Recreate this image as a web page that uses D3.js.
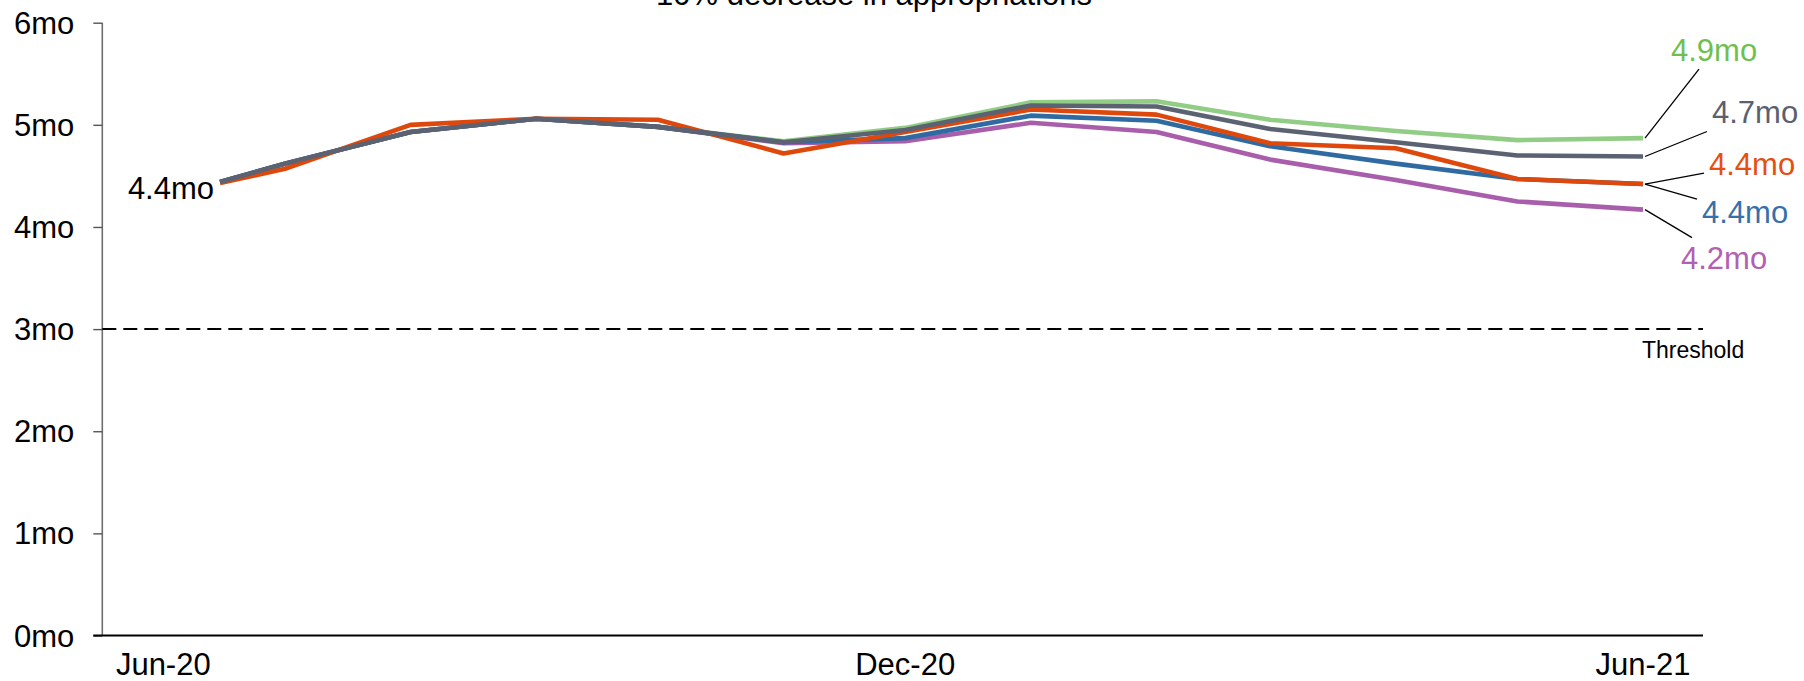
<!DOCTYPE html>
<html>
<head>
<meta charset="utf-8">
<script src="https://cdn.jsdelivr.net/npm/d3@7"></script>
<style>
  html, body { margin: 0; padding: 0; background: #ffffff; }
  svg { display: block; font-family: "Liberation Sans", Arial, Helvetica, sans-serif; }
</style>
</head>
<body>
<svg id="chart" width="1804" height="681"></svg>
<script>
// Months of cash on hand, one line per scenario
const dates = ["2020-06-15", "2020-07-01", "2020-08-01", "2020-09-01", "2020-10-01",
  "2020-11-01", "2020-12-01", "2021-01-01", "2021-02-01", "2021-03-01",
  "2021-04-01", "2021-05-01", "2021-06-01"];

const seriesGreen  = [4.44, 4.62, 4.93, 5.06, 4.98, 4.84, 4.97, 5.22, 5.23, 5.05, 4.94, 4.85, 4.87];
const seriesPurple = [4.44, 4.62, 4.93, 5.06, 4.98, 4.82, 4.84, 5.02, 4.93, 4.66, 4.46, 4.25, 4.17];
const seriesBlue   = [4.44, 4.62, 4.93, 5.06, 4.98, 4.83, 4.87, 5.09, 5.04, 4.79, 4.62, 4.47, 4.42];
const seriesOrange = [4.43, 4.57, 5.00, 5.06, 5.05, 4.72, 4.93, 5.15, 5.10, 4.82, 4.77, 4.47, 4.42];
const seriesGray   = [4.44, 4.62, 4.93, 5.06, 4.98, 4.83, 4.95, 5.19, 5.18, 4.96, 4.83, 4.70, 4.69];

const yTicks = [0, 1, 2, 3, 4, 5, 6];
const xTickDates = ["2020-06-01", "2020-12-01", "2021-06-01"];
const thresholdValue = 3;
const titleText = "10% decrease in appropriations";
const thresholdText = "Threshold";

// drawing styles and end-label layout (offsets from each line's last point)
const seriesList = [
  { values: seriesGreen,  stroke: "#92cd86", text: "#6fbf4f", leader: [56, -69],   label: [28, -77] },
  { values: seriesPurple, stroke: "#a95eab", text: "#b160b3", leader: [49, 28],    label: [38, 59] },
  { values: seriesBlue,   stroke: "#2f6ba2", text: "#3670ab", leader: [54, 15],    label: [59, 39] },
  { values: seriesOrange, stroke: "#df480c", text: "#e64f10", leader: [61, -11],   label: [66, -9] },
  { values: seriesGray,   stroke: "#5b6272", text: "#5a6070", leader: [64, -25],   label: [69, -33] }
];

const parse = d3.timeParse("%Y-%m-%d");
const fmtTick = d3.timeFormat("%b-%y");
const fmtVal = d3.format(".1f");

const svg = d3.select("#chart");

const x = d3.scaleTime()
  .domain([parse("2020-06-01"), parse("2021-06-01")])
  .range([163.3, 1643]);
const y = d3.scaleLinear().domain([0, 6]).range([635.5, 22.7]);

const axisLeftX = 102.3;
const axisRightX = 1703;

// title (sits partly above the visible area)
svg.append("text")
  .attr("x", 874).attr("y", 5)
  .attr("text-anchor", "middle")
  .attr("font-size", 31)
  .attr("fill", "#000")
  .text(titleText);

// y axis
const yAxis = svg.append("g")
  .attr("transform", `translate(${axisLeftX},0)`)
  .call(d3.axisLeft(y).tickValues(yTicks).tickSize(9).tickPadding(19)
    .tickFormat(d => d + "mo"));
yAxis.select(".domain").attr("stroke", "#6e6e6e").attr("stroke-width", 1.6)
  .attr("d", `M0,${y(6)}V${y(0)}`);
yAxis.selectAll(".tick line").attr("stroke", "#555").attr("stroke-width", 1.4);
yAxis.selectAll(".tick text")
  .attr("font-size", 31).attr("fill", "#000")
  .attr("font-family", "\"Liberation Sans\", Arial, sans-serif")
  .attr("dy", "0.34em");

// x baseline
svg.append("line")
  .attr("x1", axisLeftX - 9).attr("x2", axisRightX)
  .attr("y1", y(0)).attr("y2", y(0))
  .attr("stroke", "#000").attr("stroke-width", 2);

// x tick labels
svg.append("g").selectAll("text")
  .data(xTickDates)
  .join("text")
  .attr("x", d => x(parse(d)))
  .attr("y", 675)
  .attr("text-anchor", "middle")
  .attr("font-size", 31)
  .attr("fill", "#000")
  .text(d => fmtTick(parse(d)));

// threshold
svg.append("line")
  .attr("x1", axisLeftX).attr("x2", axisRightX)
  .attr("y1", y(thresholdValue)).attr("y2", y(thresholdValue))
  .attr("stroke", "#000").attr("stroke-width", 2)
  .attr("stroke-dasharray", "14,7");
svg.append("text")
  .attr("x", 1642).attr("y", 358)
  .attr("font-size", 23)
  .attr("fill", "#000")
  .text(thresholdText);

// lines
const line = d3.line()
  .x((d, i) => x(parse(dates[i])))
  .y(d => y(d));

svg.append("g").selectAll("path")
  .data(seriesList)
  .join("path")
  .attr("d", s => line(s.values))
  .attr("fill", "none")
  .attr("stroke", s => s.stroke)
  .attr("stroke-width", 4.6)
  .attr("stroke-linejoin", "round");

// start label
const startVal = seriesGray[0];
svg.append("text")
  .attr("x", x(parse(dates[0])) - 6)
  .attr("y", y(startVal) + 17)
  .attr("text-anchor", "end")
  .attr("font-size", 31)
  .attr("fill", "#000")
  .text(fmtVal(startVal) + "mo");

// end labels with leader lines
const lastIdx = dates.length - 1;
const endX = x(parse(dates[lastIdx]));
const endG = svg.append("g");
seriesList.forEach(s => {
  const v = s.values[lastIdx];
  const ey = y(v);
  endG.append("line")
    .attr("x1", endX + 2).attr("y1", ey)
    .attr("x2", endX + s.leader[0]).attr("y2", ey + s.leader[1])
    .attr("stroke", "#000").attr("stroke-width", 1.3);
  endG.append("text")
    .attr("x", endX + s.label[0]).attr("y", ey + s.label[1])
    .attr("font-size", 31)
    .attr("fill", s.text)
    .text(fmtVal(v) + "mo");
});
</script>
</body>
</html>
